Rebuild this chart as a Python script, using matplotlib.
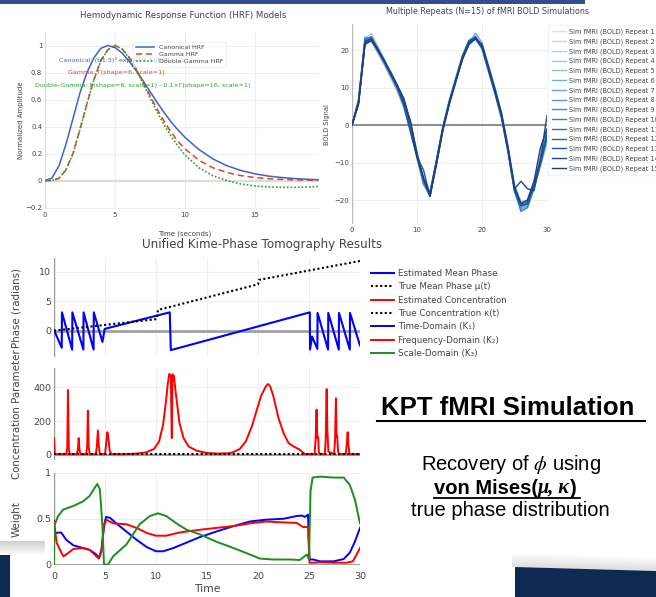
import matplotlib
matplotlib.use("Agg")
import matplotlib.pyplot as plt
from matplotlib.patches import Rectangle, Polygon
from matplotlib.lines import Line2D
from matplotlib.text import Annotation
from matplotlib.transforms import Bbox, TransformedBbox

# ---------------- data ----------------
# HRF models
hrf_t = [0, 0.5, 1, 1.5, 2, 2.5, 3, 3.5, 4, 4.5, 5, 5.5, 6, 6.5, 7, 7.5, 8, 8.5, 9, 9.5,
         10, 11, 12, 13, 14, 15, 16, 17, 18, 19, 19.5]
hrf_canonical = [0, 0.02, 0.11, 0.27, 0.46, 0.65, 0.8, 0.91, 0.98, 1.0, 0.985, 0.945, 0.885,
                 0.815, 0.74, 0.66, 0.58, 0.505, 0.435, 0.375, 0.32, 0.23, 0.16, 0.11, 0.075,
                 0.05, 0.033, 0.022, 0.014, 0.009, 0.007]
hrf_gamma = [0, 0.001, 0.017, 0.08, 0.2, 0.38, 0.57, 0.75, 0.89, 0.97, 1.0, 0.975, 0.915,
             0.83, 0.73, 0.63, 0.53, 0.44, 0.36, 0.29, 0.235, 0.15, 0.095, 0.06, 0.037,
             0.023, 0.014, 0.009, 0.005, 0.003, 0.002]
hrf_double = [0, 0.001, 0.017, 0.08, 0.2, 0.38, 0.57, 0.75, 0.89, 0.97, 1.0, 0.975, 0.91,
              0.825, 0.72, 0.615, 0.51, 0.415, 0.33, 0.255, 0.19, 0.095, 0.035, 0.0, -0.025,
              -0.04, -0.047, -0.05, -0.05, -0.046, -0.044]

# BOLD repeats (1 s sampling)
bold_t = list(range(31))
bold_repeats = [
    [0, 5, 21, 23.5, 20.5, 17.5, 14, 10.5, 6, 0, -7.5, -14.5, -18, -9.5, -0.5, 6.5, 12.5, 18.5, 22.5, 23, 20.5, 14.5, 8.5, 2, -7, -17.5, -22, -21, -16.5, -10.5, -4],
    [0, 6.5, 22.5, 22, 19, 16, 13, 9.5, 5, -1, -8.5, -15.5, -19, -10.5, -1.5, 5.5, 11.5, 17.5, 21.5, 24, 21.5, 15.5, 9.5, 3, -6, -16.5, -21, -20, -15.5, -9, -2],
    [0, 6, 23, 24.5, 21, 17, 13.5, 9.5, 5.5, -0.5, -8, -15, -18.5, -10, -1, 6, 12, 18, 22, 23.5, 21, 15, 9, 2.5, -6.5, -17, -21.5, -21, -16, -10, -3],
    [0.5, 5.5, 21.5, 22.5, 19.5, 16.5, 14, 10, 6.5, 1, -7, -14, -18, -9, 0, 7, 13, 18.5, 22, 23, 20, 14, 8, 1.5, -7.5, -18, -23, -22, -17, -11, -5],
    [0, 6, 22, 23, 20, 17, 13.5, 10, 5.5, -0.5, -8, -15, -18.5, -10, -1, 6, 12, 18, 22, 23.5, 21, 15, 9, 2.5, -6.5, -17, -21, -20.5, -16, -10, -3],
    [-0.5, 6.5, 23.5, 23, 20.5, 17.5, 13, 9, 4.5, -1.5, -9, -16, -19, -10.5, -1.5, 5.5, 11.5, 17.5, 22, 24.5, 22, 16, 10, 3.5, -5.5, -16, -20.5, -20, -15, -8.5, -1],
    [0, 7, 22.5, 22.5, 19.5, 16, 12.5, 9, 5, -1, -8.5, -15, -18, -9.5, -0.5, 6.5, 12.5, 18.5, 22.5, 23, 20.5, 14.5, 8.5, 2, -7, -17.5, -22.5, -21.5, -16.5, -10.5, -3.5],
    [0, 5.5, 22, 23.5, 20, 17, 14, 10.5, 6, 0, -7.5, -14.5, -18.5, -10, -1, 6, 12, 18, 22, 23.5, 21, 15, 9, 2.5, -6.5, -17, -22, -21, -16, -9.5, -2.5],
    [0, 6, 22.5, 23, 20.5, 17, 13.5, 10, 5.5, -0.5, -8.5, -15.5, -18.5, -9.5, -0.5, 6.5, 12, 18, 21.5, 23, 21, 15.5, 9.5, 3, -6, -16.5, -21.5, -21, -16.5, -10, -2],
    [0, 6, 22, 22.5, 19.5, 16.5, 13.5, 10, 5.5, -0.5, -8, -15, -18.5, -10, -1, 6, 12, 18, 22, 23.5, 21, 15, 9, 2.5, -6.5, -17.5, -23, -22, -17, -10.5, -3.5],
    [0, 6.5, 23, 23.5, 20, 17, 13.5, 10, 5.5, -0.5, -8, -15, -18.5, -10, -1, 6, 12, 18, 22.5, 23.5, 21, 15, 9, 2.5, -6.5, -17, -21, -20.5, -16, -10, -3],
    [0, 6, 22, 23, 20, 17, 14, 10.5, 6, 0.5, -7.5, -14.5, -18, -9.5, -0.5, 6.5, 12.5, 18.5, 22.5, 23.5, 21, 15, 9, 2.5, -6.5, -17, -21.5, -21, -16, -9.5, -2],
    [0, 6, 22.5, 23, 20, 17, 13.5, 10, 5, -2, -8.5, -12, -19, -9.5, -0.5, 6, 12, 18, 22, 23, 20.5, 14.5, 8.5, 2, -7, -17.5, -21.5, -21, -16, -10, -3],
    [0, 6, 22, 23, 20, 17, 13.5, 10, 6.5, 1, -8, -14.5, -19, -10.5, -1, 6, 12, 18, 22, 23, 21, 15, 9, 2.5, -6.5, -17, -15, -17, -17.5, -9, 2.5],
    [0, 5.5, 21.5, 22.5, 20, 17, 13.5, 10.5, 7, 0.5, -8.5, -14, -19, -10, -1, 6, 12, 17.5, 21.5, 23, 21.5, 15.5, 9.5, 3, -6, -16.5, -21, -20, -15, -6, -1],
]
repeat_labels = ["Sim fMRI (BOLD) Repeat %d" % (i + 1) for i in range(15)]
repeat_colors = ['#d3e4f3', '#c4dbef', '#b3d2ea', '#a1c8e4', '#8dbde0', '#78b1da', '#64a5d3',
                 '#5299cb', '#428dc3', '#3580bb', '#2873b2', '#1d66a8', '#15599c', '#1b4a8c',
                 '#2b3a78']

# Kime-phase tomography
phase_t = [0, 0.76, 0.78, 1.78, 1.8, 2.88, 2.9, 3.88, 3.9, 4.75, 4.97, 11.35, 11.45,
           25.08, 25.1, 25.3, 25.82, 25.84, 26.87, 26.89, 27.92, 27.94, 29.0, 29.02, 30]
phase_est = [0.1, -2.9, 3.1, -3.2, 3.1, -3.2, 3.1, -3.2, 3.1, -1.9, 0.3, 3.1, -3.3,
             3.1, -3.2, -1.0, -3.1, 3.0, -3.2, 3.0, -3.2, 3.0, -3.2, 3.0, -2.5]
mu_t = [0, 10.05, 10.2, 20.0, 20.1, 30]
mu_true = [0, 1.95, 3.5, 7.85, 8.6, 11.8]

kappa_t = [0, 0.08, 1.2, 1.3, 1.37, 1.45, 1.55, 2.25, 2.35, 2.42, 2.5, 2.6, 3.15, 3.25, 3.32,
           3.4, 3.5, 4.1, 4.2, 4.3, 4.4, 4.5, 5.0, 5.1, 5.22, 5.3, 5.45, 5.6, 7, 8, 9, 9.8,
           10.3, 10.7, 11.0, 11.15, 11.3, 11.45, 11.55, 11.62, 11.75, 11.95, 12.3, 12.7, 13.2,
           14, 15, 16, 17, 17.5, 18.2, 18.8, 19.4, 19.8, 20.3, 20.8, 21.0, 21.2, 21.5, 22,
           22.5, 23, 23.5, 24, 24.4, 24.6, 25.55, 25.65, 25.74, 25.82, 25.9, 25.96, 26.05,
           26.55, 26.63, 26.73, 26.8, 26.9, 27.45, 27.55, 27.64, 27.7, 27.76, 27.85, 27.95,
           28.6, 28.7, 28.79, 28.87, 28.97, 30]
kappa_est = [100, 5, 5, 40, 385, 40, 5, 5, 40, 100, 30, 5, 5, 50, 262, 50, 5, 5, 50, 145,
             50, 5, 5, 60, 135, 120, 30, 5, 5, 8, 15, 35, 80, 180, 330, 420, 480, 470, 100,
             478, 470, 360, 190, 100, 50, 25, 12, 8, 10, 15, 35, 80, 170, 250, 350, 410, 420,
             405, 350, 220, 130, 70, 50, 35, 15, 5, 5, 100, 268, 100, 105, 20, 5, 5, 80,
             390, 150, 20, 5, 80, 335, 110, 115, 20, 5, 5, 60, 135, 60, 5, 5]
kappa_true_t = [0, 30]
kappa_true = [6, 6]

w1_t = [0, 0.7, 1.2, 1.9, 2.85, 3.5, 4.15, 4.4, 4.65, 4.9, 5.1, 5.5, 6.1, 7.1, 8.1, 9.1, 10,
        10.7, 11.7, 13, 14.3, 15.9, 17.6, 19.2, 20.8, 22.5, 23.8, 24.3, 24.6, 24.9, 25.05,
        25.4, 26.1, 27.4, 28.4, 29, 29.5, 30]
w1 = [0.345, 0.35, 0.27, 0.21, 0.18, 0.16, 0.11, 0.07, 0.16, 0.42, 0.52, 0.51, 0.45, 0.36,
      0.27, 0.19, 0.145, 0.145, 0.18, 0.24, 0.3, 0.36, 0.42, 0.47, 0.49, 0.5, 0.53, 0.535,
      0.52, 0.545, 0.055, 0.055, 0.035, 0.035, 0.06, 0.13, 0.25, 0.4]
w2_t = [0, 0.25, 0.9, 1.2, 1.9, 2.85, 3.5, 4.15, 4.4, 4.65, 4.9, 5.15, 5.8, 7.1, 8.1, 9.1,
        10, 11, 12.3, 14.3, 15.9, 17.6, 19.2, 20.8, 22.5, 23.8, 24.4, 24.9, 25.05, 25.4,
        26.1, 27.4, 28.7, 29.3, 30]
w2 = [0.48, 0.24, 0.09, 0.11, 0.17, 0.18, 0.16, 0.09, 0.065, 0.145, 0.43, 0.49, 0.45, 0.44,
      0.4, 0.345, 0.315, 0.315, 0.35, 0.38, 0.4, 0.42, 0.45, 0.47, 0.46, 0.455, 0.41, 0.41,
      0.02, 0.02, 0.025, 0.02, 0.02, 0.035, 0.18]
w3_t = [0, 0.02, 0.4, 0.9, 1.9, 2.85, 3.5, 4.0, 4.25, 4.5, 4.75, 4.9, 5.3, 5.8, 6.4, 7.1,
        7.75, 8.4, 9.4, 10.2, 11, 12, 13, 14.3, 15.9, 17.6, 19.2, 20.2, 21.5, 23.1, 24.1,
        24.8, 25.0, 25.15, 25.35, 26.1, 27.4, 28.4, 29, 29.5, 30]
w3 = [0.0, 0.42, 0.53, 0.6, 0.64, 0.69, 0.75, 0.84, 0.88, 0.82, 0.42, 0.0, 0.0, 0.09, 0.15,
      0.22, 0.33, 0.44, 0.53, 0.56, 0.53, 0.45, 0.38, 0.33, 0.25, 0.18, 0.11, 0.065, 0.055,
      0.055, 0.05, 0.11, 0.055, 0.8, 0.95, 0.96, 0.95, 0.95, 0.87, 0.71, 0.45]

# ---------------- figure ----------------
W, H = 656, 597
plt.rcParams['font.family'] = ['DejaVu Sans']
fig = plt.figure(figsize=(W / 100, H / 100), dpi=100)


def box(l, t, r, b):
    return [l / W, 1 - b / H, (r - l) / W, (b - t) / H]


def fx(x):
    return x / W


def fy(y):
    return 1 - y / H


def plotly_style(ax, fs, grid='#eeeeee'):
    for s in ax.spines.values():
        s.set_visible(False)
    ax.grid(True, color=grid, lw=0.8)
    ax.set_axisbelow(True)
    ax.tick_params(length=0, labelsize=fs, colors='#444444', pad=2)


# slide decorations
fig.add_artist(Rectangle((0, fy(4)), fx(585), 4 / H, transform=fig.transFigure,
                         color='#2f4f8f', lw=0))
for i in range(14):
    a = 0.02 + 0.022 * i
    fig.add_artist(Rectangle((0, fy(555 - i)), fx(45), 1 / H, transform=fig.transFigure,
                             color='#666666', alpha=a, lw=0))
    fig.add_artist(Polygon([(fx(512), fy(566 - 13 + i)), (fx(656), fy(570 - 13 + i)),
                            (fx(656), fy(571 - 13 + i)), (fx(512), fy(567 - 13 + i))],
                           transform=fig.transFigure, color='#666666', alpha=a * 0.7, lw=0))
fig.add_artist(Rectangle((0, 0), fx(10), 42 / H, transform=fig.transFigure,
                         color='#0f2a52', lw=0))
fig.add_artist(Polygon([(fx(515), fy(567)), (fx(656), fy(571)), (fx(656), 0), (fx(515), 0)],
                       transform=fig.transFigure, color='#0f2a52', lw=0))

# ---- HRF panel ----
ax = fig.add_axes(box(45, 32, 319.4, 209))
plotly_style(ax, 5)
ax.axhline(0, color='#dcdcdc', lw=1.6, zorder=1)
ax.axvline(0, color='#dcdcdc', lw=1.6, zorder=1)
ax.plot(hrf_t, hrf_canonical, color='#3f62c9', lw=1.1, label='Canonical HRF')
ax.plot(hrf_t, hrf_gamma, color='#e0412b', lw=1.1, ls=(0, (4, 2.5)), label='Gamma HRF')
ax.plot(hrf_t, hrf_double, color='#2ca02c', lw=1.2, ls=(0, (1, 1.2)), label='Double-Gamma HRF')
ax.set_xlim(0, 19.6)
ax.set_ylim(-0.21, 1.1)
ax.set_xticks([0, 5, 10, 15])
ax.set_yticks([-0.2, 0, 0.2, 0.4, 0.6, 0.8, 1])
ax.set_yticklabels(['\u22120.2', '0', '0.2', '0.4', '0.6', '0.8', '1'])
ax.set_ylabel('Normalized Amplitude', fontsize=5, color='#444444')
ax.yaxis.set_label_coords(-0.077, 0.5)
ax.set_xlabel('Time (seconds)', fontsize=5, color='#444444')
ax.xaxis.set_label_coords(0.51, -0.12)
fig.text(fx(183), fy(15.5), 'Hemodynamic Response Function (HRF) Models', ha='center',
         va='center', fontsize=6.2, color='#444444')
ax.text((115 - 45) / 274.4, (209 - 60) / 177,
        'Canonical: (t/1.5)\u00b3 exp(\u2212t/1.5)/\u0393(4)', transform=ax.transAxes,
        ha='center', va='center', fontsize=4.6, color='#3f62c9')
ax.text((116 - 45) / 274.4, (209 - 73) / 177, 'Gamma: \u0393(shape=6, scale=1)',
        transform=ax.transAxes, ha='center', va='center', fontsize=4.6, color='#e0412b')
ax.text((143 - 45) / 274.4, (209 - 86) / 177,
        'Double-Gamma: \u0393(shape=6, scale=1) - 0.1\u00d7\u0393(shape=16, scale=1)',
        transform=ax.transAxes, ha='center', va='center', fontsize=4.6, color='#2ca02c')
leg = ax.legend(loc='upper left', bbox_to_anchor=((130 - 45) / 274.4, (209 - 39) / 177),
                fontsize=4.5, frameon=True, fancybox=False, edgecolor='#e4e4e4',
                framealpha=0.6, handlelength=3, borderpad=0.4, labelspacing=0.3)
leg.get_frame().set_linewidth(0.6)
for txt in leg.get_texts():
    txt.set_color('#444444')

# ---- BOLD repeats panel ----
ax = fig.add_axes(box(352, 23.75, 547, 224.4))
plotly_style(ax, 5)
ax.axhline(0, color='#8c8c8c', lw=1.4, zorder=1)
ax.axvline(0, color='#bbbbbb', lw=1.0, zorder=1)
for vals, col, lab in zip(bold_repeats, repeat_colors, repeat_labels):
    ax.plot(bold_t, vals, color=col, lw=1.0, label=lab)
ax.set_xlim(0, 30)
ax.set_ylim(-26.5, 27)
ax.set_xticks([0, 10, 20, 30])
ax.set_yticks([-20, -10, 0, 10, 20])
ax.set_yticklabels(['\u221220', '\u221210', '0', '10', '20'])
ax.set_ylabel('BOLD Signal', fontsize=4.8, color='#444444')
ax.yaxis.set_label_coords(-0.115, 0.5)
fig.text(fx(488), fy(12), 'Multiple Repeats (N=15) of fMRI BOLD Simulations', ha='center',
         va='center', fontsize=5.8, color='#444444')
leg = ax.legend(loc='upper left', bbox_to_anchor=((545 - 352) / 195, (224.4 - 22) / 200.65),
                fontsize=4.7, frameon=True, fancybox=False, edgecolor='#f2f2f2',
                handlelength=2.2, handletextpad=0.5, labelspacing=0.5, borderpad=0.5)
for txt in leg.get_texts():
    txt.set_color('#444444')

# ---- Kime-phase tomography panels ----
fig.text(fx(262), fy(244.5), 'Unified Kime-Phase Tomography Results', ha='center',
         va='center', fontsize=8.6, color='#444444')
axp = fig.add_axes(box(54, 258, 360, 357))
axc = fig.add_axes(box(54, 368, 360, 460))
axw = fig.add_axes(box(54, 473, 360, 565))
for a in (axp, axc, axw):
    plotly_style(a, 6.8)
    a.set_xlim(0, 30)
    a.set_xticks([0, 5, 10, 15, 20, 25, 30])
    a.axvline(0, color='#9a9a9a', lw=1.0, zorder=1)
for a in (axp, axc):
    a.tick_params(labelbottom=False)
axw.tick_params(axis='x', pad=5)

axp.axhline(0, color='#a0a0a0', lw=2, zorder=1)
l1, = axp.plot(phase_t, phase_est, color='#0000ff', lw=1.5, label='Estimated Mean Phase')
l2, = axp.plot(mu_t, mu_true, color='black', lw=1.5, ls=(0, (1, 1.2)),
               label='True Mean Phase \u03bc(t)')
axp.set_ylim(-4.46, 12.3)
axp.set_yticks([0, 5, 10])
axp.set_ylabel('Phase (radians)', fontsize=7.4, color='#444444')
axp.yaxis.set_label_coords(-0.105, 0.5)

axc.axhline(0, color='#a0a0a0', lw=1.4, zorder=1)
l3, = axc.plot(kappa_t, kappa_est, color='#ff0000', lw=1.4,
               label='Estimated Concentration \u03ba(t)')
l4, = axc.plot(kappa_true_t, kappa_true, color='black', lw=1.5, ls=(0, (1, 1.2)),
               label='True Concentration \u03ba(t)')
axc.set_ylim(-29.6, 515)
axc.set_yticks([0, 200, 400])
axc.set_ylabel('Concentration Parameter', fontsize=7.4, color='#444444')
axc.yaxis.set_label_coords(-0.105, 0.5)

axw.axhline(0, color='#a0a0a0', lw=1.4, zorder=1)
l5, = axw.plot(w1_t, w1, color='#0000ff', lw=1.4, label='Time-Domain (K\u2081)')
l6, = axw.plot(w2_t, w2, color='#ff0000', lw=1.4, label='Frequency-Domain (K\u2082)')
l7, = axw.plot(w3_t, w3, color='#1e8c1e', lw=1.4, label='Scale-Domain (K\u2083)')
axw.set_ylim(-0.005, 1.0)
axw.set_yticks([0, 0.5, 1])
axw.set_yticklabels(['0', '0.5', '1'])
axw.set_ylabel('Weight', fontsize=7.4, color='#444444')
axw.yaxis.set_label_coords(-0.105, 0.5)
axw.set_xlabel('Time', fontsize=7.8, color='#444444', labelpad=2)

leg = fig.legend(handles=[l1, l2, l3, l4, l5, l6, l7], loc='upper left',
                 bbox_to_anchor=(fx(363), fy(261)), frameon=False, fontsize=6.3,
                 handlelength=2.6, handletextpad=0.45, labelspacing=0.5)
clip = TransformedBbox(Bbox([[0, 0], [507 / W, 1]]), fig.transFigure)
for txt in leg.get_texts():
    txt.set_color('#444444')
    txt.set_clip_box(clip)
    txt.set_clip_on(True)

# ---- slide text ----
fig.text(fx(507.5), fy(415), 'KPT fMRI Simulation', ha='center', va='baseline',
         fontsize=18.5, fontweight='bold', family='Liberation Sans')
fig.add_artist(Line2D([fx(377), fx(645)], [fy(420.5), fy(420.5)], transform=fig.transFigure,
                      color='black', lw=1.5))
fig.text(fx(511), fy(470), 'Recovery of $\\phi$ using', ha='center', va='baseline',
         fontsize=14.5, family='Liberation Sans', math_fontfamily='stix')
t1 = fig.text(fx(434), fy(498), 'von Mises(', ha='left', va='bottom', fontsize=14.5,
              fontweight='bold', family='Liberation Sans')
t2 = Annotation('\u03bc, \u03ba', xy=(1, 0), xycoords=t1, ha='left', va='bottom',
                fontsize=14.5, fontweight='bold', fontstyle='italic', family='Liberation Serif')
fig.add_artist(t2)
t3 = Annotation(')', xy=(1, 0), xycoords=t2, ha='left', va='bottom', fontsize=14.5,
                fontweight='bold', family='Liberation Sans')
fig.add_artist(t3)
fig.add_artist(Line2D([fx(434), fx(580)], [fy(498), fy(498)], transform=fig.transFigure,
                      color='black', lw=1.3))
fig.text(fx(510), fy(516), 'true phase distribution', ha='center', va='baseline',
         fontsize=14.5, family='Liberation Sans')

fig.savefig('out.png', dpi=100)
